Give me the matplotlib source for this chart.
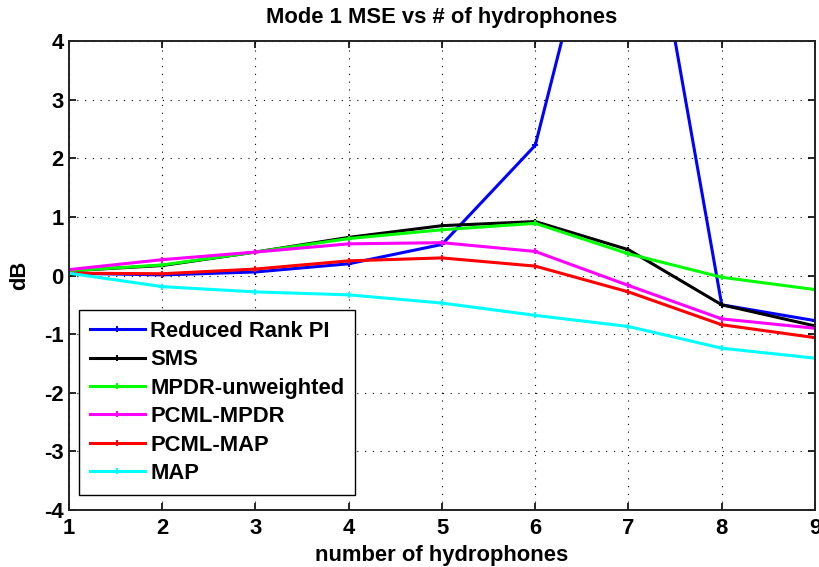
import matplotlib
matplotlib.use("Agg")
import matplotlib.pyplot as plt

plt.rcParams['font.family'] = ['Liberation Sans', 'DejaVu Sans']
plt.rcParams['axes.unicode_minus'] = False

# Number of hydrophones in the array
hydrophones = [1, 2, 3, 4, 5, 6, 7, 8, 9]

# Mode 1 MSE (dB) for each estimator
reduced_rank_pi = [0.04, 0.01, 0.06, 0.20, 0.53, 2.22, 8.5, -0.50, -0.77]
sms = [0.08, 0.17, 0.40, 0.65, 0.85, 0.92, 0.44, -0.50, -0.86]
mpdr_unweighted = [0.08, 0.18, 0.40, 0.63, 0.78, 0.89, 0.37, -0.03, -0.24]
pcml_mpdr = [0.10, 0.27, 0.40, 0.54, 0.56, 0.41, -0.17, -0.74, -0.90]
pcml_map = [0.04, 0.03, 0.11, 0.25, 0.30, 0.16, -0.28, -0.84, -1.06]
map_est = [0.04, -0.19, -0.28, -0.33, -0.47, -0.68, -0.87, -1.24, -1.41]

series_names = ['Reduced Rank PI', 'SMS', 'MPDR-unweighted',
                'PCML-MPDR', 'PCML-MAP', 'MAP']
series_values = [reduced_rank_pi, sms, mpdr_unweighted,
                 pcml_mpdr, pcml_map, map_est]
series_colors = ['#0000ff', '#000000', '#00ff00', '#ff00ff', '#ff0000', '#00ffff']

x_ticks = [1, 2, 3, 4, 5, 6, 7, 8, 9]
y_ticks = [-4, -3, -2, -1, 0, 1, 2, 3, 4]

FS = 15.8
W, H = 820, 567
fig = plt.figure(figsize=(W / 100, H / 100), dpi=100)
ax = fig.add_axes([69 / W, 1 - 510 / H, 746 / W, 469 / H])

for name, vals, col in zip(series_names, series_values, series_colors):
    ax.plot(hydrophones, vals, color=col, lw=2.2, marker='+', ms=5,
            mew=1.4, label=name, solid_joinstyle='miter')

ax.set_xlim(1, 9)
ax.set_ylim(-4, 4)
ax.set_xticks(x_ticks)
ax.set_yticks(y_ticks)
ax.set_xticklabels([str(t) for t in x_ticks])
ax.set_yticklabels([str(t) for t in y_ticks])

ax.grid(True, color='black', lw=0.8, linestyle=(0, (1, 6)))
ax.tick_params(direction='in', length=5, width=1.2, top=True, right=True,
               labelsize=FS, colors='black')
ax.tick_params(axis='x', pad=6)
ax.tick_params(axis='y', pad=4)
for lbl in ax.get_xticklabels() + ax.get_yticklabels():
    lbl.set_fontweight('bold')
for sp in ax.spines.values():
    sp.set_linewidth(1.4)
    sp.set_color('#222222')

ax.set_title('Mode 1 MSE vs # of hydrophones', fontsize=FS,
             fontweight='bold', pad=13)
ax.set_xlabel('number of hydrophones', fontsize=FS, fontweight='bold',
              labelpad=4)
ax.set_ylabel('dB', fontsize=FS, fontweight='bold', labelpad=10)

leg = ax.legend(loc='lower left', bbox_to_anchor=(10 / 746, 15 / 469),
                borderaxespad=0, fancybox=False, framealpha=1,
                edgecolor='black', prop={'size': FS, 'weight': 'bold'},
                handlelength=2.5, handletextpad=0.25, labelspacing=0.34,
                borderpad=0.5)
leg.get_frame().set_linewidth(1.0)

fig.savefig('out.png', dpi=100)
